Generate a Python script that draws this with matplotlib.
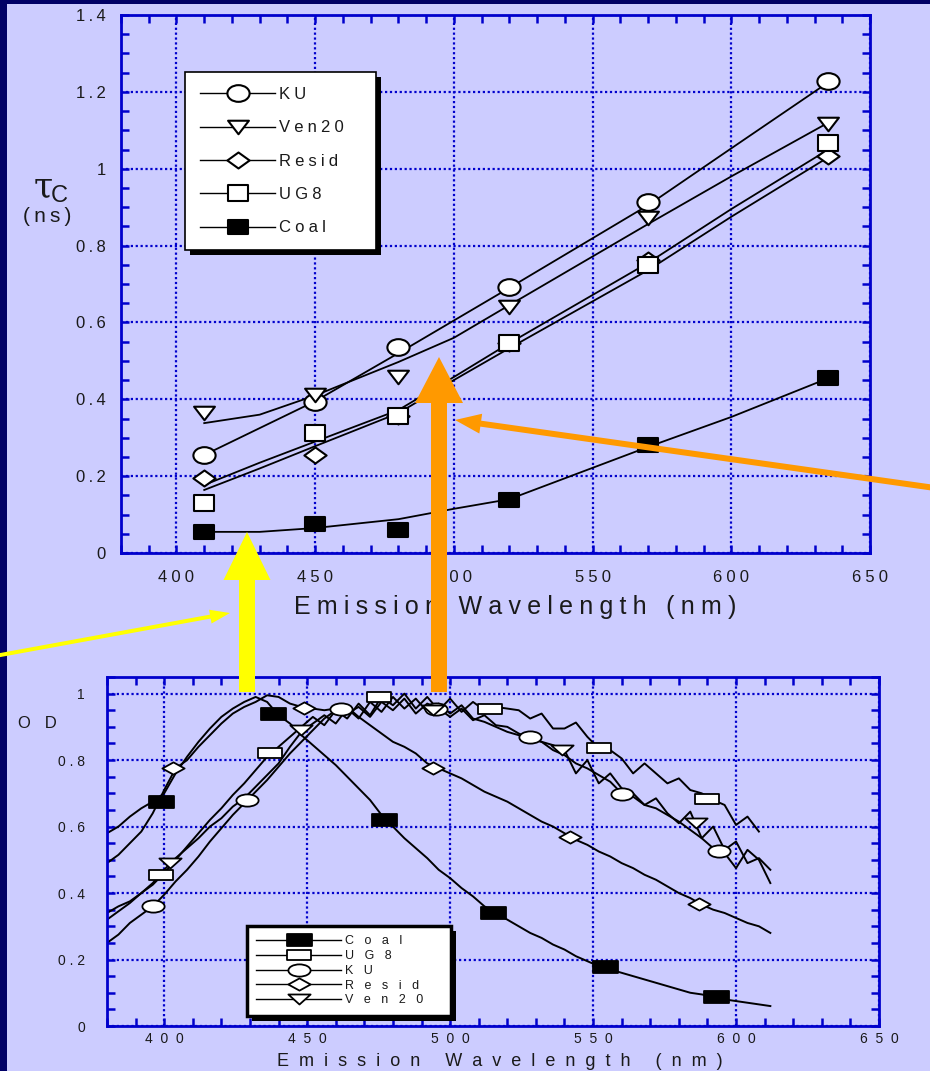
"""Fluorescence decay time and absorbance spectra of the five oil/coal samples."""

import matplotlib
matplotlib.use("Agg")
import matplotlib.pyplot as plt
import numpy as np
from matplotlib.lines import Line2D
from matplotlib.patches import Polygon, Rectangle
from matplotlib.path import Path
from matplotlib.ticker import FuncFormatter, MultipleLocator
from matplotlib.transforms import Affine2D, IdentityTransform

W, H = 930, 1071
BG = "#CCCCFF"
NAVY = "#000066"
BLUE = "#0000CC"
INK = "#1a1a1a"

# ---- decay time tau_C (ns) vs emission wavelength ----
tau_wl = [410, 450, 480, 520, 570, 635]
tau_ku = [0.255, 0.393, 0.536, 0.692, 0.913, 1.228]
tau_ven20 = [0.364, 0.411, 0.458, 0.640, 0.872, 1.116]
tau_resid = [0.195, 0.255, 0.356, 0.546, 0.762, 1.033]
tau_ug8 = [0.130, 0.312, 0.357, 0.546, 0.749, 1.067]
tau_coal = [0.055, 0.075, 0.060, 0.138, 0.281, 0.455]

# fitted trend lines drawn through each set
fit_wl = [410, 430, 450, 480, 500, 520, 570, 600, 635]
fit_ku = [0.255, 0.325, 0.395, 0.520, 0.605, 0.690, 0.905, 1.053, 1.225]
fit_ven20 = [0.338, 0.360, 0.410, 0.497, 0.560, 0.645, 0.856, 0.980, 1.120]
fit_resid = [0.164, 0.220, 0.278, 0.364, 0.450, 0.533, 0.736, 0.875, 1.030]
fit_ug8 = [0.177, 0.235, 0.290, 0.372, 0.458, 0.546, 0.755, 0.895, 1.050]
fit_coal = [0.055, 0.055, 0.065, 0.088, 0.115, 0.140, 0.276, 0.354, 0.455]

# ---- normalised absorbance (OD) spectra ----
od_wl = list(range(380, 613, 4))
od_coal = [0.58, 0.60, 0.63, 0.655, 0.675, 0.70, 0.76, 0.81, 0.855, 0.895,
           0.93, 0.955, 0.975, 0.99, 0.975, 0.935, 0.91, 0.875, 0.845, 0.815,
           0.785, 0.75, 0.715, 0.68, 0.635, 0.60, 0.565, 0.535, 0.505, 0.47,
           0.445, 0.415, 0.39, 0.36, 0.34, 0.32, 0.30, 0.28, 0.265, 0.245,
           0.23, 0.21, 0.195, 0.18, 0.17, 0.16, 0.15, 0.14, 0.13, 0.12,
           0.11, 0.10, 0.095, 0.088, 0.08, 0.075, 0.07, 0.065, 0.06]
od_resid = [0.49, 0.515, 0.55, 0.585, 0.64, 0.71, 0.775, 0.80, 0.84, 0.875,
            0.91, 0.94, 0.96, 0.975, 0.995, 0.99, 0.97, 0.96, 0.955, 0.95,
            0.955, 0.96, 0.93, 0.905, 0.88, 0.855, 0.84, 0.82, 0.79, 0.775,
            0.76, 0.745, 0.725, 0.705, 0.69, 0.675, 0.655, 0.635, 0.615, 0.60,
            0.58, 0.56, 0.545, 0.525, 0.51, 0.49, 0.475, 0.455, 0.44, 0.42,
            0.40, 0.385, 0.365, 0.35, 0.34, 0.325, 0.31, 0.30, 0.28]
od_ug8 = [0.34, 0.36, 0.375, 0.40, 0.425, 0.46, 0.50, 0.54, 0.58, 0.62,
          0.655, 0.695, 0.73, 0.77, 0.81, 0.84, 0.87, 0.90, 0.93, 0.905,
          0.95, 0.925, 0.97, 0.935, 0.99, 0.965, 1.0, 0.955, 0.99, 0.95,
          0.985, 0.945, 0.975, 0.95, 0.96, 0.955, 0.95, 0.925, 0.94, 0.895,
          0.895, 0.913, 0.87, 0.835, 0.83, 0.805, 0.76, 0.79, 0.76, 0.73,
          0.745, 0.71, 0.70, 0.68, 0.665, 0.605, 0.63, 0.585, np.nan]
od_ku = [0.25, 0.275, 0.31, 0.335, 0.36, 0.395, 0.435, 0.47, 0.51, 0.555,
         0.595, 0.635, 0.67, 0.705, 0.74, 0.78, 0.82, 0.855, 0.89, 0.925,
         0.95, 0.94, 0.96, 0.93, 0.975, 0.95, 0.985, 0.94, 0.97, 0.955,
         0.93, 0.955, 0.92, 0.935, 0.905, 0.90, 0.88, 0.865, 0.855, 0.83,
         0.815, 0.79, 0.775, 0.755, 0.735, 0.70, 0.69, 0.665, 0.655, 0.635,
         0.615, 0.59, 0.565, 0.535, 0.52, 0.475, 0.53, 0.50, 0.43]
od_ven20 = [0.32, 0.345, 0.37, 0.40, 0.43, 0.47, 0.505, 0.535, 0.565, 0.60,
            0.625, 0.66, 0.685, 0.72, 0.755, 0.79, 0.84, 0.885, 0.91, 0.935,
            0.91, 0.955, 0.925, 0.975, 0.945, 0.99, 0.955, 0.985, 0.945, 0.97,
            0.94, 0.965, 0.925, 0.915, 0.90, 0.885, 0.875, 0.865, 0.855, 0.845,
            0.83, 0.76, 0.80, 0.73, 0.76, 0.715, 0.70, 0.665, 0.685, 0.64,
            0.61, 0.645, 0.565, 0.60, 0.53, 0.555, 0.49, 0.505, 0.47]

# symbol positions along each spectrum
mk_coal_wl = [399, 438, 477, 515, 554, 593]
mk_coal_od = [0.675, 0.94, 0.62, 0.34, 0.177, 0.087]
mk_ug8_wl = [399, 437, 475, 514, 552, 590]
mk_ug8_od = [0.453, 0.82, 0.99, 0.955, 0.835, 0.684]
mk_ku_wl = [396, 429, 462, 495, 528, 560, 594]
mk_ku_od = [0.36, 0.68, 0.955, 0.955, 0.868, 0.697, 0.526]
mk_resid_wl = [403, 449, 494, 542, 587]
mk_resid_od = [0.775, 0.958, 0.775, 0.568, 0.366]
mk_ven20_wl = [402, 448, 494, 539, 586]
mk_ven20_od = [0.49, 0.89, 0.95, 0.83, 0.61]


def _poly(pts):
    return Path(pts + [pts[0]], closed=True)


# marker shapes (wider than tall, as in the original plotting package)
ELLIPSE = Path.unit_circle().transformed(Affine2D().scale(1.0, 0.75))
DIAMOND = _poly([(-1, 0), (0, 0.72), (1, 0), (0, -0.72)])
TRI_DOWN = _poly([(-1, 0.65), (1, 0.65), (0, -0.65)])
BOX = _poly([(-1, -0.85), (1, -0.85), (1, 0.85), (-1, 0.85)])
BOX_FLAT = _poly([(-1, -0.75), (1, -0.75), (1, 0.75), (-1, 0.75)])

ELLIPSE_W = Path.unit_circle().transformed(Affine2D().scale(1.0, 0.55))
DIAMOND_W = _poly([(-1, 0), (0, 0.55), (1, 0), (0, -0.55)])
TRI_W = _poly([(-1, 0.45), (1, 0.45), (0, -0.45)])
RECT_W = _poly([(-1, -0.45), (1, -0.45), (1, 0.45), (-1, 0.45)])


def spaced(s, gap="\u2009"):
    return gap.join(s)


def style_axes(ax, xpad, ypad, size, ylim, ystep):
    ax.set_facecolor("none")
    ax.set_xlim(380, 650)
    ax.set_ylim(*ylim)
    ax.xaxis.set_major_locator(MultipleLocator(50))
    ax.xaxis.set_minor_locator(MultipleLocator(10))
    ax.yaxis.set_major_locator(MultipleLocator(ystep))
    ax.yaxis.set_minor_locator(MultipleLocator(0.05))
    for sp in ax.spines.values():
        sp.set_color(BLUE)
        sp.set_linewidth(2.0)
    ax.tick_params(which="both", direction="in", top=True, right=True,
                   color=BLUE, width=1.8, length=6, labelcolor=INK,
                   labelsize=size)
    ax.tick_params(axis="x", pad=xpad)
    ax.tick_params(axis="y", pad=ypad)
    ax.grid(True, which="major", color=BLUE, linestyle=(0, (1, 1.2)),
            linewidth=1.6)
    ax.set_axisbelow(True)


def add_shadow(ax, leg, dx, dy):
    ax.figure.canvas.draw()
    bb = leg.get_frame().get_window_extent()
    sh = Rectangle((bb.x0 + dx, bb.y0 - dy), bb.width, bb.height,
                   transform=IdentityTransform(), facecolor="black",
                   edgecolor="none", zorder=leg.get_zorder() - 0.1,
                   clip_on=False)
    ax.add_artist(sh)


def arrow(fig, x0, y0, x1, y1, shaft, head_w, head_l, color):
    """Block arrow given in figure pixels (origin top-left)."""
    p0 = np.array([x0, y0], float)
    p1 = np.array([x1, y1], float)
    d = p1 - p0
    u = d / np.hypot(*d)
    n = np.array([-u[1], u[0]])
    base = p1 - u * head_l
    pts = [p0 + n * shaft / 2, base + n * shaft / 2, base + n * head_w / 2,
           p1, base - n * head_w / 2, base - n * shaft / 2, p0 - n * shaft / 2]
    pts = [(x / W, 1 - y / H) for x, y in pts]
    fig.add_artist(Polygon(pts, closed=True, transform=fig.transFigure,
                           facecolor=color, edgecolor="none", zorder=10))


plt.rcParams["font.family"] = ["Liberation Sans", "DejaVu Sans"]

fig = plt.figure(figsize=(W / 100, H / 100), dpi=100, facecolor=BG)
fig.add_artist(Rectangle((0, 0), 7 / W, 1, transform=fig.transFigure,
                         facecolor=NAVY, edgecolor="none", zorder=-1))
fig.add_artist(Rectangle((0, 1 - 4 / H), 1, 4 / H, transform=fig.transFigure,
                         facecolor=NAVY, edgecolor="none", zorder=-1))

# ------------------------------------------------------------------ top panel
ax1 = fig.add_axes([121 / W, 1 - 553 / H, 749 / W, 538 / H])
style_axes(ax1, xpad=12, ypad=11, size=12, ylim=(0, 1.4), ystep=0.2)
ax1.xaxis.set_major_formatter(
    FuncFormatter(lambda v, p: spaced(f"{v:g}", "\u2005")))
ax1.yaxis.set_major_formatter(FuncFormatter(lambda v, p: spaced(f"{v:g}")))

top_series = [
    ("KU", tau_ku, fit_ku, ELLIPSE, 16, "white"),
    ("Ven20", tau_ven20, fit_ven20, TRI_DOWN, 15, "white"),
    ("Resid", tau_resid, fit_resid, DIAMOND, 16, "white"),
    ("UG8", tau_ug8, fit_ug8, BOX, 14, "white"),
    ("Coal", tau_coal, fit_coal, BOX_FLAT, 14, "black"),
]
handles = []
for name, pts, fit, mk, ms, fc in top_series:
    ax1.plot(fit_wl, fit, color="black", lw=1.3, zorder=2)
    ax1.plot(tau_wl, pts, ls="none", marker=mk, ms=ms, mfc=fc, mec="black",
             mew=1.5, zorder=3)
    handles.append(Line2D([], [], color="black", lw=1.0, marker=mk, ms=ms,
                          mfc=fc, mec="black", mew=1.5,
                          label=spaced(name, "\u2005") + "\u2003"))

leg1 = ax1.legend(handles=handles, loc="upper left",
                  bbox_to_anchor=(0.0855, 0.894), borderaxespad=0,
                  fontsize=12, handlelength=4.5, handletextpad=0.25,
                  borderpad=0.9, labelspacing=1.1, fancybox=False,
                  framealpha=1, facecolor="white", edgecolor="black")
leg1.get_frame().set_linewidth(1.2)
for t in leg1.get_texts():
    t.set_color(INK)

fig.text(43 / W, 1 - 187 / H, "\u03c4", family="DejaVu Serif", fontsize=25,
         ha="center", va="center", color=INK)
fig.text(59 / W, 1 - 196 / H, "C", fontsize=17, ha="center", va="center",
         color=INK)
fig.text(47 / W, 1 - 217 / H, spaced("(ns)"), fontsize=15,
         ha="center", va="center", color=INK)
fig.text(515 / W, 1 - 607 / H, spaced("Emission Wavelength (nm)", "\u2005"),
         fontsize=18, ha="center", va="center", color=INK)

# --------------------------------------------------------------- lower panel
ax2 = fig.add_axes([107 / W, 1 - 1026 / H, 772 / W, 349 / H])
style_axes(ax2, xpad=4, ypad=16, size=10, ylim=(0, 1.05), ystep=0.2)
ax2.xaxis.set_major_formatter(
    FuncFormatter(lambda v, p: spaced(f"{v:g}", "  ")))
ax2.yaxis.set_major_formatter(
    FuncFormatter(lambda v, p: spaced(f"{v:g}", " ")))

bottom_series = [
    ("Coal", od_coal, mk_coal_wl, mk_coal_od, RECT_W, 18, "black"),
    ("UG8", od_ug8, mk_ug8_wl, mk_ug8_od, RECT_W, 17, "white"),
    ("KU", od_ku, mk_ku_wl, mk_ku_od, ELLIPSE_W, 16, "white"),
    ("Resid", od_resid, mk_resid_wl, mk_resid_od, DIAMOND_W, 16, "white"),
    ("Ven20", od_ven20, mk_ven20_wl, mk_ven20_od, TRI_W, 16, "white"),
]
handles = []
for name, od, mwl, mod, mk, ms, fc in bottom_series:
    ax2.plot(od_wl, od, color="black", lw=1.4, zorder=2)
    ax2.plot(mwl, mod, ls="none", marker=mk, ms=ms, mfc=fc, mec="black",
             mew=1.3, zorder=3)
    handles.append(Line2D([], [], color="black", lw=1.0, marker=mk, ms=ms,
                          mfc=fc, mec="black", mew=1.3,
                          label=spaced(name, "   ") + "\u2003\u2002"))

leg2 = ax2.legend(handles=handles, loc="upper left",
                  bbox_to_anchor=(0.181, 0.2865), borderaxespad=0,
                  fontsize=9, handlelength=6.8, handletextpad=0.3,
                  borderpad=0.75, labelspacing=0.22, fancybox=False,
                  framealpha=1, facecolor="white", edgecolor="black")
leg2.get_frame().set_linewidth(2.5)
for t in leg2.get_texts():
    t.set_color(INK)

fig.text(37 / W, 1 - 723 / H, "O   D", fontsize=12, ha="center",
         va="center", color=INK)
fig.text(500 / W, 1 - 1062 / H,
         spaced("Emission Wavelength (nm)", "  "), fontsize=13,
         ha="center", va="center", color=INK)

add_shadow(ax1, leg1, 5, 5)
add_shadow(ax2, leg2, 5, 5)

# ------------------------------------------------------- annotation arrows
arrow(fig, 247, 692, 247, 532, 16, 47, 48, "#FFFF00")
arrow(fig, -5, 656, 230, 613, 4, 14, 20, "#FFFF00")
arrow(fig, 439, 692, 439, 357, 16, 48, 46, "#FF9900")
arrow(fig, 935, 488, 455, 420, 6, 20, 26, "#FF9900")

fig.savefig("out.png", dpi=100, facecolor=BG)
